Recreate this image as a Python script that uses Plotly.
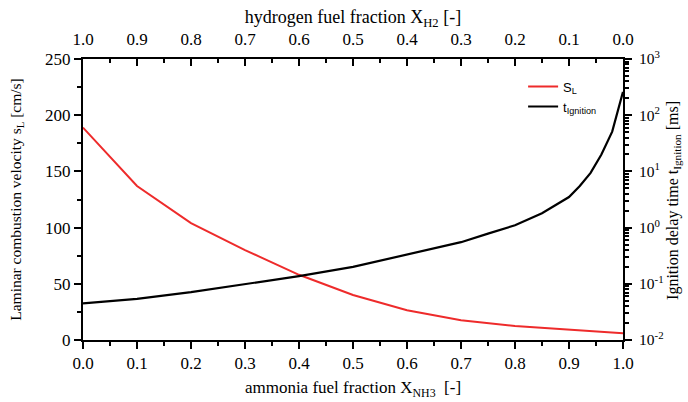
import plotly.graph_objects as go

# Ammonia fuel fraction (x) and the two measured quantities
x_nh3_sl = [0.0, 0.1, 0.2, 0.3, 0.4, 0.5, 0.6, 0.7, 0.8, 0.9, 1.0]
s_l = [189, 137, 104, 80, 58, 40, 26.5, 17.5, 12.5, 9, 6]

x_nh3_tig = [0.0, 0.1, 0.2, 0.3, 0.4, 0.5, 0.6, 0.7, 0.75, 0.8, 0.85, 0.9, 0.92, 0.94, 0.96, 0.98, 1.0]
t_ign = [0.045, 0.054, 0.071, 0.098, 0.137, 0.2, 0.33, 0.55, 0.78, 1.1, 1.8, 3.5, 5.5, 9.4, 20, 51, 260]

x_ticks = [0.0, 0.1, 0.2, 0.3, 0.4, 0.5, 0.6, 0.7, 0.8, 0.9, 1.0]
x_ticklabels = [f"{v:.1f}" for v in x_ticks]

# decade ticks on the ignition-delay axis
log_ticks = [0.01, 0.1, 1, 10, 100, 1000]
log_ticklabels = ["10<sup>-2</sup>", "10<sup>-1</sup>", "10<sup>0</sup>", "10<sup>1</sup>",
                  "10<sup>2</sup>", "10<sup>3</sup>"]
log_minor = [m * 10 ** k for k in range(-2, 3) for m in range(2, 10)]

serif = "Liberation Serif"
sans = "Liberation Sans"
red = "#ee2b2b"

fig = go.Figure()
fig.add_trace(go.Scatter(x=x_nh3_sl, y=s_l, mode="lines", name="S<sub>L</sub>",
                         line=dict(color=red, width=2), xaxis="x", yaxis="y"))
fig.add_trace(go.Scatter(x=x_nh3_tig, y=t_ign, mode="lines", name="t<sub>Ignition</sub>",
                         line=dict(color="black", width=2.2), xaxis="x", yaxis="y2"))
# hidden trace so the hydrogen-fraction axis on top is drawn
fig.add_trace(go.Scatter(x=[1 - v for v in x_nh3_sl], y=s_l, mode="lines", showlegend=False,
                         line=dict(width=0), opacity=0, hoverinfo="skip", xaxis="x2", yaxis="y"))

axis_common = dict(showline=True, linecolor="black", linewidth=2, showgrid=False, zeroline=False,
                   automargin=False, tickcolor="black", tickwidth=2)


def tfont(size):
    return dict(family=serif, size=size, color="black")


fig.update_layout(
    width=688, height=402,
    margin=dict(l=83, r=65, t=59, b=62),
    paper_bgcolor="white", plot_bgcolor="white",
    showlegend=True,
    legend=dict(x=0.815, y=0.955, xanchor="left", yanchor="top", bgcolor="rgba(0,0,0,0)",
                font=dict(family=sans, size=13, color="black"), tracegroupgap=0,
                itemwidth=30),
    xaxis=dict(range=[0, 1], tickvals=x_ticks, ticktext=x_ticklabels, ticks="outside", ticklen=7,
               tickfont=tfont(17),
               minor=dict(ticks="outside", ticklen=4, dtick=0.05, tickwidth=2, tickcolor="black"),
               title=dict(text="ammonia fuel fraction X<sub>NH3</sub>  [-]", standoff=9, font=tfont(17)),
               **axis_common),
    xaxis2=dict(range=[1, 0], overlaying="x", side="top", anchor="y", tickvals=x_ticks,
                ticktext=x_ticklabels, ticks="inside", ticklen=7, ticklabelstandoff=5,
                tickfont=tfont(17),
                minor=dict(ticks="inside", ticklen=4, dtick=0.05, tickwidth=2, tickcolor="black"),
                title=dict(text="hydrogen fuel fraction X<sub>H2</sub> [-]", standoff=0, font=tfont(18)),
                **axis_common),
    yaxis=dict(range=[0, 250], dtick=50, ticks="outside", ticklen=7, tickfont=tfont(17),
               minor=dict(ticks="outside", ticklen=4, dtick=25, tickwidth=2, tickcolor="black"),
               title=dict(text="Laminar combustion velocity s<sub>L</sub> [cm/s]", standoff=20,
                          font=tfont(15.5)),
               **axis_common),
    yaxis2=dict(type="log", range=[-2, 3], overlaying="y", side="right", anchor="x",
                tickvals=log_ticks, ticktext=log_ticklabels, ticks="outside", ticklen=7,
                ticklabelstandoff=4, tickfont=tfont(15.5),
                minor=dict(tickmode="array", tickvals=log_minor, ticks="outside", ticklen=4,
                           tickwidth=1.5, tickcolor="black"),
                **axis_common),
    annotations=[dict(text="Ignition delay time t<sub>Ignition</sub> [ms]", textangle=-90,
                      xref="paper", yref="paper", x=1.0945, y=0.495, xanchor="center",
                      yanchor="middle", showarrow=False, font=tfont(16))],
)

fig.write_html("out.html")
